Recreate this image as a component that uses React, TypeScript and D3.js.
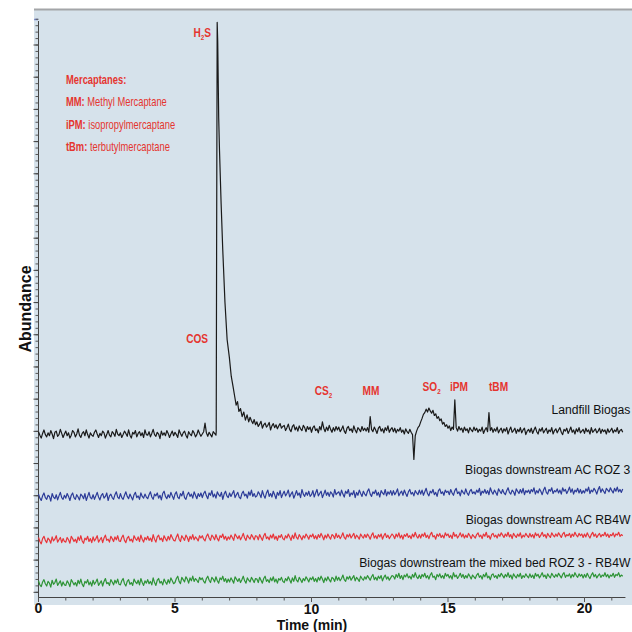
import React from 'react';
import * as d3 from 'd3';

// ---------- data ----------
const T_STEP = 0.05; // min between samples

// Landfill biogas, t = 0 .. 6.5 min
const landfillBefore = [
  28.6, 28.0, 27.5, 28.3, 28.9, 28.1, 27.7, 28.4, 27.9, 28.8, 28.2, 27.4, 28.5, 28.7, 27.8, 28.1, 29.0, 28.3, 27.6, 28.2,
  28.7, 27.9, 28.4, 27.5, 28.0, 28.8, 28.5, 27.7, 28.2, 29.1, 28.0, 27.6, 28.3, 28.6, 27.9, 28.9, 28.1, 27.5, 28.4, 28.0,
  27.8, 28.5, 28.9, 28.2, 27.6, 28.3, 27.9, 28.7, 28.4, 27.5, 28.1, 28.8, 28.0, 27.7, 28.6, 28.3, 27.8, 29.0, 28.2, 27.9,
  28.4, 27.6, 28.1, 28.7, 28.3, 27.8, 28.9, 28.0, 27.5, 28.5, 28.2, 28.8, 27.7, 28.3, 28.6, 27.9, 28.4, 27.6, 28.9, 28.1,
  28.0, 28.6, 27.7, 28.3, 29.0, 28.1, 27.8, 28.5, 28.2, 27.4, 28.7, 28.0, 28.4, 27.9, 28.8, 28.3, 27.6, 28.2, 28.7, 27.9,
  28.5, 28.1, 27.6, 28.9, 28.3, 27.8, 28.4, 28.7, 28.0, 27.5, 28.6, 28.2, 27.9, 28.8, 28.4, 27.7, 28.1, 28.9, 28.3, 27.8,
  28.2, 28.6, 30.1, 28.4, 27.8, 28.5, 28.1, 27.7, 28.6, 28.3, 28.0,
];

// H2S peak (time, abundance)
const h2sPeak: [number, number][] = [
  [6.51, 28.6], [6.525, 62], [6.545, 99.4], [6.565, 96], [6.6, 83],
  [6.63, 77.3], [6.69, 68], [6.75, 60], [6.83, 51], [6.91, 44.5],
  [6.99, 41.5], [7.06, 38.2], [7.13, 36.3], [7.19, 34.6], [7.24, 33.2],
  [7.29, 33.8], [7.34, 32.1], [7.4, 32.6], [7.46, 31.2], [7.52, 32.0],
  [7.58, 30.6], [7.64, 31.5], [7.7, 30.3], [7.75, 31.1],
];

// Landfill biogas, t = 7.8 .. 21.4 min
const landfillAfterStart = 7.8;
const landfillAfter = [
  30.5, 30.0, 30.7, 29.8,
  30.3, 29.5, 29.9, 30.4, 29.2, 29.8, 30.1, 29.4, 29.7, 30.2, 28.9, 29.6, 30.0, 29.3, 29.8, 29.1, 29.6, 30.0, 29.2, 29.5,
  29.7, 28.8, 29.3, 29.9, 29.0, 28.6, 29.5, 29.8, 28.9, 29.4, 28.7, 29.6, 29.1, 28.8, 29.7, 29.3, 28.6, 29.5, 29.0, 29.4,
  28.5, 29.3, 29.6, 28.8, 29.1, 28.4, 29.5, 28.9, 30.3, 29.2, 28.6, 29.4, 28.8, 29.7, 29.0, 28.5, 29.3, 28.7, 29.5, 28.9,
  29.4, 28.6, 29.0, 29.6, 28.7, 28.3, 29.2, 29.5, 28.8, 29.1, 28.5, 29.6, 28.9, 28.4, 29.3, 29.0, 28.6, 29.5, 28.8, 29.2,
  28.7, 29.3, 28.5, 31.2, 29.0, 28.6, 29.4, 28.9, 28.3, 29.2, 29.5, 28.7, 29.1, 28.4, 29.3, 28.8, 29.6, 28.5, 29.0, 29.3,
  28.6, 29.2, 28.4, 29.0, 28.7, 29.3, 28.5, 28.9, 28.2, 29.1, 28.6, 28.3, 29.0, 28.5, 28.1, 23.8, 27.9, 28.7, 29.3, 29.6,
  30.3, 30.9, 31.6, 31.9, 32.5, 32.0, 32.7, 32.2, 31.8, 32.3, 31.4, 31.7, 30.9, 31.2, 30.5, 30.8, 29.9, 30.2, 29.5, 29.8,
  29.2, 29.6, 28.8, 29.4, 29.0, 34.1, 29.3, 28.7, 29.5, 28.9, 29.2, 28.5, 29.4, 28.8, 29.1, 28.4, 29.3, 28.9, 28.6, 29.4,
  28.8, 29.2, 28.5, 29.0, 28.7, 29.4, 28.3, 28.9, 29.3, 28.6, 31.9, 28.8, 29.3, 28.5, 29.1, 28.7, 29.4, 28.4, 28.9, 29.2,
  28.4, 29.1, 28.7, 29.3, 28.2, 28.9, 29.4, 28.5, 28.8, 29.2, 28.3, 29.0, 28.6, 29.3, 28.4, 28.9, 29.2, 28.1, 28.7, 29.0,
  28.5, 29.2, 28.3, 28.9, 29.4, 28.6, 28.2, 29.1, 28.7, 29.3, 28.4, 28.8, 29.2, 28.3, 28.9, 28.6, 29.3, 28.2, 28.8, 29.1,
  28.4, 28.9, 29.3, 28.5, 28.1, 29.0, 28.7, 29.2, 28.3, 28.8, 29.4, 28.5, 28.9, 28.2, 29.1, 28.6, 29.3, 28.4, 28.7, 29.0,
  28.3, 29.2, 28.6, 28.9, 28.2, 29.3, 28.5, 28.8, 29.1, 28.4, 28.7, 29.2, 28.3, 29.0, 28.6, 28.9, 28.2, 29.1, 28.5, 28.8,
  29.2, 28.4, 28.9, 28.6, 29.3, 28.3, 28.8, 29.0, 28.5,
];

// Biogas downstream AC ROZ 3, t = 0 .. 21.4
const rozValues = [
  17.8, 17.1, 16.7, 17.5, 18.0, 17.2, 16.9, 17.6, 17.4, 16.6, 17.9, 17.3, 17.0, 17.7, 16.8, 17.5, 18.1, 17.2, 16.9, 17.6,
  17.1, 17.9, 17.4, 16.7, 17.6, 18.0, 17.2, 16.9, 17.7, 17.3, 16.8, 17.8, 17.5, 17.0, 17.9, 16.7, 17.4, 18.1, 17.2, 17.0,
  17.7, 16.9, 17.5, 18.1, 17.3, 16.8, 17.6, 17.9, 17.1, 17.4, 18.0, 16.7, 17.5, 17.8, 17.2, 16.9, 17.7, 18.2, 17.3, 17.0,
  17.9, 17.2, 16.9, 17.6, 18.2, 17.4, 17.0, 17.8, 17.3, 16.8, 17.7, 18.1, 17.2, 17.5, 16.9, 18.0, 17.4, 17.1, 17.8, 17.3,
  17.0, 17.7, 18.2, 17.3, 16.9, 17.8, 17.5, 18.0, 17.1, 17.6, 16.8, 17.9, 18.3, 17.4, 17.0, 17.7, 17.2, 18.1, 17.5, 16.9,
  17.8, 18.2, 17.3, 17.0, 17.9, 17.5, 18.3, 17.2, 16.9, 17.7, 18.1, 17.4, 17.8, 17.1, 18.2, 17.6, 17.0, 17.9, 17.4, 18.0,
  17.2, 17.9, 18.3, 17.5, 17.0, 18.0, 17.6, 18.4, 17.3, 17.8, 17.1, 18.2, 17.7, 17.4, 18.1, 16.9, 17.8, 18.3, 17.5, 17.2,
  18.0, 17.4, 17.9, 18.4, 17.2, 17.7, 18.1, 17.3, 17.0, 17.9, 18.3, 17.5, 17.8, 17.1, 18.2, 17.6, 18.5, 17.4, 17.9, 17.3,
  17.5, 18.2, 17.8, 17.2, 18.4, 17.6, 17.1, 18.0, 18.5, 17.4, 17.9, 17.3, 18.3, 17.7, 17.0, 18.1, 17.6, 18.4, 17.2, 17.8,
  18.3, 17.5, 17.9, 18.5, 17.3, 17.8, 18.2, 17.1, 17.7, 18.4, 17.6, 18.0, 17.2, 18.6, 17.8, 17.4, 18.1, 17.6, 18.3, 17.4,
  17.7, 18.4, 17.3, 18.0, 18.6, 17.5, 17.9, 18.3, 17.2, 17.8, 18.5, 17.6, 18.1, 17.4, 18.2, 17.9, 17.3, 18.6, 17.7, 18.0,
  18.2, 17.5, 18.5, 17.8, 17.3, 18.3, 17.9, 18.6, 17.4, 18.0, 17.7, 18.4, 17.2, 18.1, 17.6, 18.5, 17.9, 17.4, 18.3, 17.8,
  17.5, 18.3, 18.7, 17.8, 17.4, 18.2, 17.9, 18.5, 17.6, 18.1, 17.3, 18.4, 18.0, 17.7, 18.6, 17.5, 18.2, 17.8, 18.4, 17.6,
  18.4, 17.7, 18.1, 18.7, 17.5, 18.0, 18.3, 17.6, 18.5, 17.9, 17.4, 18.2, 18.6, 17.8, 18.1, 17.5, 18.4, 18.0, 17.7, 18.5,
  17.8, 18.5, 17.6, 18.2, 18.8, 17.9, 17.5, 18.3, 18.0, 18.6, 17.7, 18.1, 17.4, 18.4, 18.7, 17.9, 18.2, 17.6, 18.5, 18.1,
  18.3, 17.7, 18.6, 18.0, 17.6, 18.4, 18.8, 17.9, 18.2, 17.5, 18.5, 18.1, 17.8, 18.7, 18.0, 17.6, 18.3, 18.6, 17.9, 18.2,
  17.8, 18.5, 18.1, 18.8, 17.6, 18.3, 18.0, 18.6, 17.9, 18.4, 17.7, 18.9, 18.2, 17.8, 18.5, 18.1, 17.6, 18.7, 18.3, 17.9,
  18.6, 18.0, 17.7, 18.4, 18.9, 18.1, 17.8, 18.5, 18.2, 17.6, 18.7, 18.3, 17.9, 18.6, 18.0, 18.8, 17.7, 18.4, 18.1, 18.5,
  17.9, 18.6, 18.2, 18.9, 17.8, 18.4, 18.0, 18.7, 18.3, 17.7, 18.5, 19.0, 18.1, 17.8, 18.6, 18.3, 18.9, 17.9, 18.4, 18.2,
  18.7, 18.0, 18.5, 17.8, 18.9, 18.3, 18.6, 17.9, 18.4, 19.0, 18.1, 18.7, 17.8, 18.5, 18.2, 18.8, 18.0, 18.6, 17.9, 18.4,
  18.0, 18.7, 18.3, 19.0, 17.9, 18.5, 18.2, 18.8, 18.4, 17.8, 18.6, 19.1, 18.1, 18.7, 18.3, 17.9, 18.8, 18.5, 18.2, 18.9,
  18.4, 18.0, 18.8, 18.3, 19.0, 18.2, 18.6, 18.1, 18.7,
];

// Biogas downstream AC RB4W, t = 0 .. 21.4
const rb4wValues = [
  10.3, 9.6, 9.2, 10.1, 10.5, 9.8, 9.4, 10.2, 9.9, 9.3, 10.4, 9.7, 10.0, 10.6, 9.5, 9.9, 10.3, 9.4, 10.1, 9.6,
  9.5, 10.3, 9.9, 9.3, 10.5, 10.1, 9.6, 10.0, 9.4, 10.4, 9.8, 10.6, 9.7, 9.3, 10.2, 9.9, 10.5, 9.6, 10.1, 9.4,
  10.4, 9.7, 10.1, 10.6, 9.5, 9.9, 10.3, 9.4, 10.2, 10.7, 9.8, 10.0, 9.5, 10.5, 10.1, 9.6, 10.4, 9.9, 10.6, 9.7,
  9.6, 10.3, 10.7, 9.8, 9.4, 10.2, 10.5, 9.7, 10.0, 9.5, 10.6, 10.1, 9.8, 10.4, 9.6, 10.7, 10.0, 9.5, 10.3, 9.9,
  10.5, 9.8, 10.2, 9.6, 10.8, 10.0, 9.5, 10.4, 10.7, 9.9, 10.2, 9.6, 10.6, 10.1, 9.7, 10.5, 9.9, 10.8, 10.3, 9.8,
  9.7, 10.4, 10.9, 10.0, 9.6, 10.6, 10.2, 9.8, 10.7, 10.3, 9.6, 10.5, 10.0, 10.8, 9.9, 10.4, 10.1, 9.7, 10.6, 10.2,
  10.6, 10.0, 9.7, 10.5, 10.9, 10.2, 9.8, 10.7, 10.4, 9.9, 10.8, 10.1, 9.7, 10.6, 10.3, 10.9, 10.0, 10.5, 9.8, 10.4,
  10.0, 10.7, 10.3, 9.8, 10.9, 10.5, 10.1, 10.6, 9.9, 10.4, 11.0, 10.2, 9.8, 10.7, 10.3, 10.0, 10.8, 10.4, 9.9, 10.6,
  10.5, 9.9, 10.8, 10.3, 9.8, 10.6, 11.0, 10.1, 10.4, 9.9, 10.7, 10.2, 10.9, 10.0, 10.5, 9.8, 10.6, 10.3, 10.8, 10.1,
  9.9, 10.6, 10.2, 10.9, 10.4, 9.8, 10.7, 10.1, 11.1, 10.3, 10.0, 10.8, 10.4, 9.9, 10.6, 10.2, 10.9, 10.5, 10.0, 10.7,
  10.4, 10.9, 10.1, 10.6, 10.0, 10.8, 10.3, 11.0, 10.5, 9.9, 10.7, 10.2, 10.9, 10.4, 10.0, 10.8, 10.6, 10.1, 11.0, 10.3,
  10.7, 10.1, 10.5, 11.1, 10.3, 10.0, 10.8, 10.4, 10.9, 10.2, 10.6, 11.0, 10.1, 10.7, 10.4, 10.0, 10.9, 10.5, 10.2, 10.8,
  10.3, 10.9, 10.5, 10.0, 10.7, 11.1, 10.2, 10.6, 10.1, 10.8, 10.4, 10.9, 10.0, 10.6, 11.0, 10.3, 10.7, 10.1, 10.5, 10.9,
  10.6, 10.1, 10.9, 10.4, 11.1, 10.2, 10.7, 10.0, 10.8, 10.5, 11.0, 10.3, 10.6, 10.1, 10.9, 10.4, 11.2, 10.5, 10.2, 10.8,
  10.2, 10.9, 10.5, 11.1, 10.3, 10.7, 10.1, 10.8, 11.2, 10.4, 10.6, 10.0, 10.9, 10.5, 11.0, 10.3, 10.7, 10.2, 11.1, 10.6,
  10.9, 10.3, 10.7, 10.1, 11.2, 10.5, 10.8, 10.2, 10.6, 11.1, 10.4, 10.9, 10.2, 10.7, 10.3, 11.0, 10.6, 10.1, 10.8, 10.5,
  10.2, 10.8, 11.1, 10.4, 10.7, 10.1, 10.9, 10.5, 11.2, 10.3, 10.6, 10.0, 10.8, 11.0, 10.4, 10.7, 10.2, 10.9, 10.5, 11.1,
  10.7, 10.3, 10.9, 10.5, 11.2, 10.4, 10.8, 10.1, 11.0, 10.6, 10.3, 10.9, 10.5, 11.1, 10.2, 10.7, 10.4, 11.0, 10.6, 10.3,
  11.0, 10.4, 10.8, 10.2, 11.1, 10.6, 10.9, 10.3, 10.7, 11.2, 10.5, 10.8, 10.2, 11.0, 10.6, 10.3, 11.1, 10.7, 10.4, 10.9,
  10.5, 11.1, 10.7, 10.3, 10.9, 11.2, 10.4, 10.8, 10.6, 11.0, 10.3, 10.9, 10.5, 11.2, 10.7, 10.4, 11.0, 10.6, 10.9, 10.3,
  10.9, 10.4, 11.1, 10.6, 10.2, 10.8, 11.2, 10.5, 10.9, 10.3, 10.7, 11.0, 10.4, 10.8, 10.6, 11.2, 10.5, 10.9, 10.3, 10.8,
  10.6, 11.1, 10.4, 10.9, 10.7, 11.2, 10.5, 10.8, 10.6,
];

// Biogas downstream the mixed bed ROZ 3 - RB4W, t = 0 .. 21.4
const mixedValues = [
  2.8, 2.1, 1.8, 2.6, 3.0, 2.3, 1.9, 2.7, 2.4, 1.7, 2.9, 2.2, 2.5, 3.1, 2.0, 2.4, 2.8, 1.9, 2.6, 2.1,
  2.0, 2.8, 2.4, 1.8, 3.0, 2.6, 2.1, 2.5, 1.9, 2.9, 2.3, 3.1, 2.2, 1.8, 2.7, 2.4, 3.0, 2.1, 2.6, 1.9,
  2.9, 2.2, 2.6, 3.1, 2.0, 2.4, 2.8, 1.9, 2.7, 3.2, 2.3, 2.5, 2.0, 3.0, 2.6, 2.1, 2.9, 2.4, 3.1, 2.2,
  2.1, 2.8, 3.2, 2.3, 1.9, 2.7, 3.0, 2.2, 2.5, 2.0, 3.1, 2.6, 2.3, 2.9, 2.1, 3.2, 2.5, 2.0, 2.8, 2.4,
  3.0, 2.3, 2.7, 2.1, 3.3, 2.5, 2.0, 2.9, 3.2, 2.4, 2.7, 2.1, 3.1, 2.6, 2.2, 3.0, 2.4, 3.3, 2.8, 2.3,
  2.5, 3.2, 3.6, 2.7, 2.3, 3.4, 3.0, 2.6, 3.5, 3.1, 2.4, 3.3, 2.8, 3.6, 2.7, 3.2, 2.9, 2.5, 3.4, 3.0,
  3.3, 2.7, 2.4, 3.2, 3.6, 2.9, 2.5, 3.4, 3.1, 2.6, 3.5, 2.8, 2.4, 3.3, 3.0, 3.6, 2.7, 3.2, 2.5, 3.1,
  2.6, 3.3, 2.9, 2.4, 3.5, 3.1, 2.7, 3.2, 2.5, 3.0, 3.6, 2.8, 2.4, 3.3, 2.9, 2.6, 3.4, 3.0, 2.5, 3.2,
  3.1, 2.5, 3.4, 2.9, 2.4, 3.2, 3.6, 2.7, 3.0, 2.5, 3.3, 2.8, 3.5, 2.6, 3.1, 2.4, 3.2, 2.9, 3.4, 2.7,
  2.5, 3.2, 2.8, 3.5, 3.0, 2.4, 3.3, 2.7, 3.7, 2.9, 2.6, 3.4, 3.0, 2.5, 3.2, 2.8, 3.5, 3.1, 2.6, 3.3,
  3.0, 3.5, 2.7, 3.2, 2.6, 3.4, 2.9, 3.6, 3.1, 2.5, 3.3, 2.8, 3.5, 3.0, 2.6, 3.4, 3.2, 2.7, 3.6, 2.9,
  3.4, 2.8, 3.2, 3.8, 3.0, 2.7, 3.5, 3.1, 3.6, 2.9, 3.3, 3.7, 2.8, 3.4, 3.1, 2.7, 3.6, 3.2, 2.9, 3.5,
  3.1, 3.7, 3.3, 2.9, 3.5, 3.9, 3.0, 3.4, 2.9, 3.6, 3.2, 3.7, 2.8, 3.4, 3.8, 3.1, 3.5, 2.9, 3.3, 3.7,
  3.6, 3.1, 3.9, 3.4, 4.1, 3.2, 3.7, 3.0, 3.8, 3.5, 4.0, 3.3, 3.6, 3.1, 3.9, 3.4, 4.2, 3.5, 3.2, 3.8,
  3.2, 3.9, 3.5, 4.1, 3.3, 3.7, 3.1, 3.8, 4.2, 3.4, 3.6, 3.0, 3.9, 3.5, 4.0, 3.3, 3.7, 3.2, 4.1, 3.6,
  3.9, 3.3, 3.7, 3.1, 4.2, 3.5, 3.8, 3.2, 3.6, 4.1, 3.4, 3.9, 3.2, 3.7, 3.3, 4.0, 3.6, 3.1, 3.8, 3.5,
  3.2, 3.8, 4.1, 3.4, 3.7, 3.1, 3.9, 3.5, 4.2, 3.3, 3.6, 3.0, 3.8, 4.0, 3.4, 3.7, 3.2, 3.9, 3.5, 4.1,
  3.7, 3.3, 3.9, 3.5, 4.2, 3.4, 3.8, 3.1, 4.0, 3.6, 3.3, 3.9, 3.5, 4.1, 3.2, 3.7, 3.4, 4.0, 3.6, 3.3,
  4.0, 3.4, 3.8, 3.2, 4.1, 3.6, 3.9, 3.3, 3.7, 4.2, 3.5, 3.8, 3.2, 4.0, 3.6, 3.3, 4.1, 3.7, 3.4, 3.9,
  3.5, 4.1, 3.7, 3.3, 3.9, 4.2, 3.4, 3.8, 3.6, 4.0, 3.3, 3.9, 3.5, 4.2, 3.7, 3.4, 4.0, 3.6, 3.9, 3.3,
  3.9, 3.4, 4.1, 3.6, 3.2, 3.8, 4.2, 3.5, 3.9, 3.3, 3.7, 4.0, 3.4, 3.8, 3.6, 4.2, 3.5, 3.9, 3.3, 3.8,
  3.6, 4.1, 3.4, 3.9, 3.7, 4.2, 3.5, 3.8, 3.6,
];

const xTickValues = [0, 5, 10, 15, 20];
const seriesNames = [
  'Landfill Biogas',
  'Biogas downstream AC ROZ 3',
  'Biogas downstream AC RB4W',
  'Biogas downstream the mixed bed ROZ 3 - RB4W',
];
const seriesLabelLevels = [31.7, 21.3, 12.6, 5.2];

// compound annotations: main text, subscript, trailing text, time, abundance
const compounds: { a: string; sub: string; b: string; t: number; v: number }[] = [
  { a: 'H', sub: '2', b: 'S', t: 6.0, v: 96.9 },
  { a: 'COS', sub: '', b: '', t: 5.81, v: 43.9 },
  { a: 'CS', sub: '2', b: '', t: 10.44, v: 34.9 },
  { a: 'MM', sub: '', b: '', t: 12.18, v: 34.9 },
  { a: 'SO', sub: '2', b: '', t: 14.4, v: 35.6 },
  { a: 'iPM', sub: '', b: '', t: 15.4, v: 35.6 },
  { a: 'tBM', sub: '', b: '', t: 16.85, v: 35.6 },
];

const legendTitle = 'Mercaptanes:';
const legendKeys = ['MM:', 'iPM:', 'tBm:'];
const legendNames = ['Methyl Mercaptane', 'isopropylmercaptane', 'terbutylmercaptane'];

// ---------- layout ----------
const W = 632;
const H = 632;
const X0 = 38.5;
const PX_PER_MIN = 27.3;
const Y_TOP = 19;
const Y_BOT = 597;

const RED = '#e5352f';
const SANS = "'Liberation Sans', Arial, sans-serif";

export default function App() {
  const x = d3.scaleLinear().domain([0, 21.5]).range([X0, X0 + 21.5 * PX_PER_MIN]);
  const y = d3.scaleLinear().domain([0, 100]).range([Y_BOT, Y_TOP]);

  const uniform = (vals: number[], t0: number): [number, number][] =>
    vals.map((v, i) => [t0 + i * T_STEP, v]);

  const landfill: [number, number][] = [
    ...uniform(landfillBefore, 0),
    ...h2sPeak,
    ...uniform(landfillAfter, landfillAfterStart),
  ];
  const series: { pts: [number, number][]; color: string }[] = [
    { pts: landfill, color: '#1a1a1a' },
    { pts: uniform(rozValues, 0), color: '#2c3b98' },
    { pts: uniform(rb4wValues, 0), color: '#e8353a' },
    { pts: uniform(mixedValues, 0), color: '#2e9436' },
  ];

  const line = d3
    .line<[number, number]>()
    .x((d) => x(d[0]))
    .y((d) => y(d[1]));

  // axis ticks
  const yMajorStep = 5.57;
  const yMajors = d3.range(95.5, 0, -yMajorStep);
  const yMinors = d3.range(95.5 + 4 * (yMajorStep / 5), 0, -yMajorStep / 5);
  const xMinors = d3.range(0, 22, 1);

  return (
    <svg
      width={W}
      height={H}
      viewBox={`0 0 ${W} ${H}`}
      style={{ position: 'absolute', left: 0, top: 0, background: '#fff' }}
    >
      {/* panel */}
      <rect x={34} y={9} width={W - 34} height={596} fill="#d6e2eb" />
      <line x1={34} x2={W} y1={9.5} y2={9.5} stroke="#a3a5a8" strokeWidth={2} />
      <line x1={34} x2={38} y1={19.5} y2={19.5} stroke="#7d8fd0" strokeWidth={1.5} />

      {/* y axis */}
      <line x1={X0} x2={X0} y1={Y_TOP + 2} y2={Y_BOT} stroke="#444" strokeWidth={1} />
      {yMinors.map((v, i) => (
        <line key={'ym' + i} x1={X0 - 3} x2={X0} y1={y(v)} y2={y(v)} stroke="#555" strokeWidth={1} />
      ))}
      {yMajors.map((v, i) => (
        <line key={'yM' + i} x1={X0 - 5} x2={X0} y1={y(v)} y2={y(v)} stroke="#444" strokeWidth={1} />
      ))}

      {/* x axis */}
      <line x1={X0} x2={x(21.5)} y1={Y_BOT + 0.5} y2={Y_BOT + 0.5} stroke="#444" strokeWidth={1} />
      {xMinors.map((t) => (
        <line
          key={'xm' + t}
          x1={x(t)}
          x2={x(t)}
          y1={Y_BOT}
          y2={Y_BOT + (t % 5 === 0 ? 5 : 3.5)}
          stroke="#555"
          strokeWidth={1}
        />
      ))}
      {xTickValues.map((t) => (
        <text
          key={'xl' + t}
          x={x(t)}
          y={t === 10 ? 614 : 613}
          textAnchor="middle"
          fontFamily={SANS}
          fontWeight="bold"
          fontSize={14}
          fill="#111"
        >
          {t}
        </text>
      ))}
      <text x={312} y={630} textAnchor="middle" fontFamily={SANS} fontWeight="bold" fontSize={14} fill="#111">
        Time (min)
      </text>
      <text
        transform="translate(31,309) rotate(-90)"
        textAnchor="middle"
        fontFamily={SANS}
        fontWeight="bold"
        fontSize={16}
        fill="#111"
      >
        Abundance
      </text>

      {/* traces */}
      {series.map((s, i) => (
        <path
          key={'s' + i}
          d={line(s.pts) || ''}
          fill="none"
          stroke={s.color}
          strokeWidth={1.2}
          strokeLinejoin="round"
        />
      ))}

      {/* series labels */}
      {seriesNames.map((n, i) => (
        <text
          key={'sn' + i}
          transform={`translate(${x(21.68)},${y(seriesLabelLevels[i])}) scale(0.9,1)`}
          textAnchor="end"
          fontFamily={SANS}
          fontSize={13.5}
          fill="#111"
        >
          {n}
        </text>
      ))}

      {/* compound annotations */}
      {compounds.map((c, i) => (
        <text
          key={'c' + i}
          transform={`translate(${x(c.t)},${y(c.v)}) scale(0.78,1)`}
          textAnchor="middle"
          fontFamily={SANS}
          fontWeight="bold"
          fontSize={13}
          fill={RED}
        >
          {c.a}
          {c.sub && (
            <tspan dy={3} fontSize={8}>
              {c.sub}
            </tspan>
          )}
          {c.b && <tspan dy={-3}>{c.b}</tspan>}
        </text>
      ))}

      {/* legend */}
      <text
        transform="translate(66,84) scale(0.78,1)"
        fontFamily={SANS}
        fontWeight="bold"
        fontSize={12}
        fill={RED}
      >
        {legendTitle}
      </text>
      {legendKeys.map((k, i) => (
        <text
          key={'lg' + i}
          transform={`translate(66,${106 + i * 22.5}) scale(0.78,1)`}
          fontFamily={SANS}
          fontSize={12}
          fill={RED}
        >
          <tspan fontWeight="bold">{k}</tspan>
          <tspan> {legendNames[i]}</tspan>
        </text>
      ))}
    </svg>
  );
}
